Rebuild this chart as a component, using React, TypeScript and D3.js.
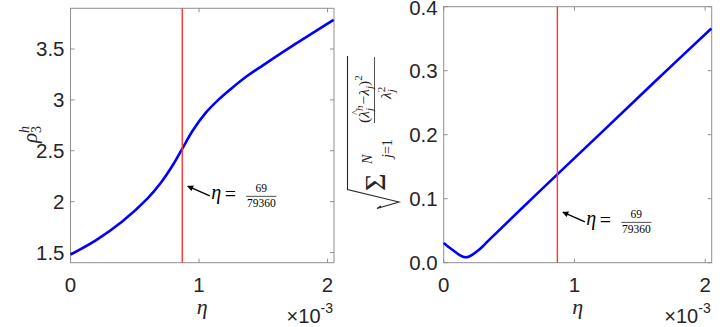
import React from 'react';
import * as d3 from 'd3';

// eta values are in units of 1e-3
const etaRho = [0, 0.2, 0.4, 0.6, 0.7, 0.8, 0.87, 0.95, 1.05, 1.15, 1.25, 1.366, 1.5, 1.75, 2.047];
const rho3 = [1.48, 1.622, 1.802, 2.032, 2.18, 2.367, 2.521, 2.697, 2.87, 3.0, 3.11, 3.227, 3.342, 3.55, 3.787];

const etaErr = [0, 0.04, 0.084, 0.12, 0.148, 0.168, 0.19, 0.22, 0.26, 0.3, 0.34, 0.6, 0.869, 1.2, 1.6, 2.047];
const relErr = [0.0306, 0.024, 0.0174, 0.0122, 0.0092, 0.0085, 0.0092, 0.0125, 0.0185, 0.0258, 0.034, 0.0855, 0.138, 0.202, 0.28, 0.366];

const etaStar = 69 / 79360 * 1000;
const xTicks = [0, 1, 2];
const rhoTicks = [1.5, 2, 2.5, 3, 3.5];
const errTicks = [0, 0.1, 0.2, 0.3, 0.4];

const sans = "'Liberation Sans', Arial, sans-serif";
const serif = "'Liberation Serif', 'Times New Roman', serif";
const axisCol = '#8f8f8f';
const txtCol = '#262626';

type PanelProps = {
  xs: number[]; ys: number[];
  x0: number; x1: number; top: number; bottom: number;
  yDomain: [number, number]; yTicks: number[];
  yFmt: (v: number) => string;
  arrowY: number;
};

function Panel({ xs, ys, x0, x1, top, bottom, yDomain, yTicks, yFmt, arrowY }: PanelProps) {
  const x = d3.scaleLinear().domain([0, 2.05]).range([x0, x1]);
  const y = d3.scaleLinear().domain(yDomain).range([bottom, top]);
  const line = d3.line<number>()
    .x((_, i) => x(xs[i]))
    .y(d => y(d))
    .curve(d3.curveCatmullRom.alpha(0.5));
  const rx = x(etaStar);
  const hx = rx + 2.5, hy = y(arrowY);
  const tx = hx + 25, ty = hy + 11;
  const tl = 4;
  return (
    <g>
      <rect x={x0} y={top} width={x1 - x0} height={bottom - top} fill="white" stroke={axisCol} strokeWidth={1} />
      {xTicks.map(t => (
        <g key={'x' + t}>
          <line x1={x(t)} x2={x(t)} y1={bottom} y2={bottom - tl} stroke={axisCol} />
          <line x1={x(t)} x2={x(t)} y1={top} y2={top + tl} stroke={axisCol} />
          <text x={x(t)} y={bottom + 29} textAnchor="middle" fontFamily={sans} fontSize={20.5} fill={txtCol}>{t}</text>
        </g>
      ))}
      {yTicks.map(t => (
        <g key={'y' + t}>
          <line x1={x0} x2={x0 + tl} y1={y(t)} y2={y(t)} stroke={axisCol} />
          <line x1={x1} x2={x1 - tl} y1={y(t)} y2={y(t)} stroke={axisCol} />
          <text x={x0 - 6} y={Math.max(y(t), 7.6)} dy="0.36em" textAnchor="end" fontFamily={sans} fontSize={20.5} fill={txtCol}>{yFmt(t)}</text>
        </g>
      ))}
      <path d={line(ys) || ''} fill="none" stroke="#0000ff" strokeWidth={2.6} />
      <line x1={rx} x2={rx} y1={top} y2={bottom} stroke="#ff3535" strokeWidth={1.4} />
      <line x1={tx} y1={ty} x2={hx + 3} y2={hy + 1.3} stroke="black" strokeWidth={1.3} markerEnd="url(#ah)" />
      <text x={tx + 1.5} y={ty + 3.5} fontFamily={serif} fontStyle="italic" fontSize={20} fill="black">η</text>
      <text x={tx + 15} y={ty + 5.5} fontFamily={serif} fontSize={20} fill="black">=</text>
      <line x1={tx + 36.5} x2={tx + 66.5} y1={ty + 0.5} y2={ty + 0.5} stroke="black" strokeWidth={0.7} />
      <text x={tx + 51.5} y={ty - 3.5} textAnchor="middle" fontFamily={serif} fontSize={11.5} fill="black">69</text>
      <text x={tx + 51.5} y={ty + 11} textAnchor="middle" fontFamily={serif} fontSize={11.5} fill="black">79360</text>
      <text x={(x0 + x1) / 2} y={bottom + 51} textAnchor="middle" fontFamily={serif} fontStyle="italic" fontSize={22} fill={txtCol}>η</text>
      <text x={x1 - 1} y={bottom + 60} textAnchor="end" fontFamily={sans} fontSize={20} fill={txtCol}>
        ×10<tspan fontSize={14} dy={-10}>-3</tspan>
      </text>
    </g>
  );
}

export default function App() {
  const S = (sy: number, sx: number) => ({ x: -sy, y: sx }); // screen position -> rotated local coords
  return (
    <svg width={720} height={327} style={{ position: 'absolute', left: 0, top: 0, background: 'white' }}>
      <defs>
        <marker id="ah" viewBox="0 0 10 10" refX={9} refY={5} markerUnits="userSpaceOnUse" markerWidth={8} markerHeight={6} orient="auto">
          <path d="M0,0 L10,5 L0,10 z" fill="black" />
        </marker>
      </defs>
      <Panel xs={etaRho} ys={rho3} x0={70.5} x1={334} top={8.3} bottom={262.7}
        yDomain={[1.4, 3.9]} yTicks={rhoTicks} yFmt={d3.format('')} arrowY={2.165} />
      <Panel xs={etaErr} ys={relErr} x0={443.7} x1={711.7} top={6.7} bottom={262.7}
        yDomain={[0, 0.4]} yTicks={errTicks} yFmt={d3.format('.1f')} arrowY={0.081} />

      {/* left y label: rho_3^h */}
      <text transform="translate(37,143) rotate(-90)" fontFamily={serif} fontStyle="italic" fontSize={21} fill={txtCol}>
        ρ<tspan fontStyle="normal" fontSize={14} dy={4}>3</tspan><tspan fontSize={14} dx={-7} dy={-12}>h</tspan>
      </text>

      {/* right y label: sqrt( sum_{j=1}^N (λ̂_j^h - λ_j)^2 / λ_j^2 ) */}
      <g transform="rotate(-90)" fontFamily={serif} fill={txtCol}>
        <text {...S(191, 385)} fontSize={30}>Σ</text>
        <text {...S(164, 372)} fontSize={14} fontStyle="italic">N</text>
        <text {...S(158, 392)} fontSize={14}><tspan fontStyle="italic">j</tspan>=1</text>
        <text {...S(123, 369)} fontSize={15.5}>
          (<tspan fontStyle="italic">λ</tspan><tspan fontSize={11} fontStyle="italic" dy={4}>j</tspan><tspan fontSize={11} fontStyle="italic" dx={-3} dy={-10}>h</tspan><tspan dy={6} dx={1}>−</tspan><tspan fontStyle="italic">λ</tspan><tspan fontSize={11} fontStyle="italic" dy={4}>j</tspan><tspan dy={-4}>)</tspan><tspan fontSize={11} dy={-7}>2</tspan>
        </text>
        <text {...S(115, 359)} fontSize={11}>^</text>
        <line x1={-123} x2={-57} y1={374.5} y2={374.5} stroke={txtCol} strokeWidth={0.8} />
        <text {...S(99, 391)} fontSize={15.5}>
          <tspan fontStyle="italic">λ</tspan><tspan fontSize={11} fontStyle="italic" dy={4}>j</tspan><tspan fontSize={11} dx={-3} dy={-10}>2</tspan>
        </text>
      </g>
      <path d="M347.5,56 V189.5 L399,202 L377,208.5 L381,206" fill="none" stroke={txtCol} strokeWidth={1.1} />
    </svg>
  );
}
